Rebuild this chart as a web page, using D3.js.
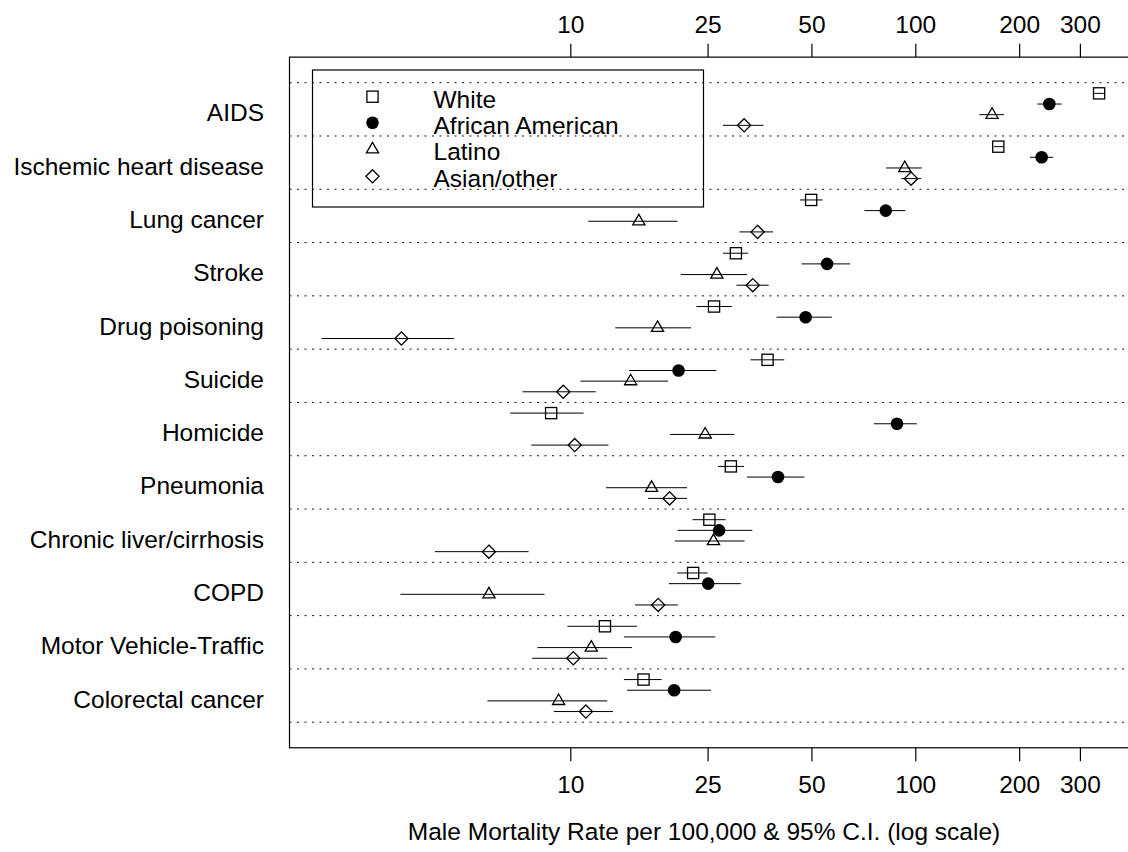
<!DOCTYPE html>
<html>
<head>
<meta charset="utf-8">
<script src="https://cdn.jsdelivr.net/npm/d3@7"></script>
<style>
  body { margin: 0; background: #fff; }
  text { font-family: "Liberation Sans", Arial, Helvetica, sans-serif; font-size: 24.5px; fill: #000; }
</style>
</head>
<body>
<svg id="chart" width="1128" height="852"></svg>
<script>
// Causes of death, listed top to bottom
const causes = ["AIDS", "Ischemic heart disease", "Lung cancer", "Stroke", "Drug poisoning",
  "Suicide", "Homicide", "Pneumonia", "Chronic liver/cirrhosis", "COPD",
  "Motor Vehicle-Traffic", "Colorectal cancer"];

const groupNames = ["White", "African American", "Latino", "Asian/other"];

// Male mortality rate per 100,000 with 95% confidence limits
const whiteRate = [341, 174, 49.9, 30.2, 26.1, 37.3, 8.8, 29.2, 25.3, 22.7, 12.6, 16.3];
const whiteLo   = [330, 169, 46.3, 27.7, 23.2, 33.3, 6.69, 26.8, 22.6, 20.4, 9.81, 14.3];
const whiteHi   = [352, 180, 53.9, 32.8, 29.4, 41.7, 10.93, 31.9, 28.2, 25.0, 15.6, 18.4];

const blackRate = [244.6, 232.4, 82.1, 55.5, 48.1, 20.6, 88.5, 40.0, 27.0, 25.1, 20.2, 20.0];
const blackLo   = [225.8, 215, 71.2, 46.8, 39.6, 14.8, 75.9, 32.5, 20.45, 19.3, 14.3, 14.6];
const blackHi   = [265.7, 251, 93.4, 64.7, 57.3, 26.5, 101, 47.7, 33.7, 31.2, 26.3, 25.6];

const latinoRate = [166.9, 93.2, 15.8, 26.6, 17.9, 14.96, 24.6, 17.2, 26.0, 5.81, 11.5, 9.25];
const latinoLo   = [153.3, 82.3, 11.27, 20.9, 13.5, 10.7, 19.45, 12.7, 20.1, 3.22, 8.03, 5.75];
const latinoHi   = [180.7, 104.4, 20.45, 32.5, 22.4, 19.2, 29.9, 21.8, 32.0, 8.42, 15.1, 12.8];

const asianRate = [31.9, 97.2, 34.9, 33.8, 3.24, 9.54, 10.3, 19.4, 5.81, 17.98, 10.2, 11.1];
const asianLo   = [27.7, 91.1, 30.9, 30.3, 1.90, 7.27, 7.71, 16.8, 4.05, 15.4, 7.75, 8.96];
const asianHi   = [36.3, 104, 38.7, 37.6, 4.60, 11.85, 12.9, 21.8, 7.57, 20.5, 12.8, 13.3];

const tickValues = [10, 25, 50, 100, 200, 300];

const series = [
  { name: groupNames[0], rate: whiteRate, lo: whiteLo, hi: whiteHi, shape: "square", offset: 0.3 },
  { name: groupNames[1], rate: blackRate, lo: blackLo, hi: blackHi, shape: "circle", offset: 0.1 },
  { name: groupNames[2], rate: latinoRate, lo: latinoLo, hi: latinoHi, shape: "triangle", offset: -0.1 },
  { name: groupNames[3], rate: asianRate, lo: asianLo, hi: asianHi, shape: "diamond", offset: -0.3 }
];

const svg = d3.select("#chart");

// Scales: log rate horizontally, cause slots (12 at top .. 1 at bottom) vertically
const x = d3.scaleLog().domain([10, 100]).range([570.3, 915.3]);
const y = d3.scaleLinear().domain([0.5, 12.5]).range([722.2, 82.7]);
const pad = 0.04 * 12;
const plotLeft = 289.5, plotRight = 1140;
const plotTop = y(12.5 + pad), plotBottom = y(0.5 - pad);

const slot = i => causes.length - i;

// Dotted separators between causes
svg.append("g").selectAll("line")
  .data(d3.range(0, causes.length + 1))
  .join("line")
  .attr("x1", plotLeft).attr("x2", plotRight)
  .attr("y1", d => y(d + 0.5)).attr("y2", d => y(d + 0.5))
  .attr("stroke", "#111").attr("stroke-width", 1)
  .attr("stroke-dasharray", "2,5.5");

// Plot frame
svg.append("rect")
  .attr("x", plotLeft).attr("y", plotTop)
  .attr("width", plotRight - plotLeft).attr("height", plotBottom - plotTop)
  .attr("fill", "none").attr("stroke", "#000").attr("stroke-width", 1.2);

// Marker drawing
function marker(sel, shape) {
  if (shape === "circle") {
    sel.append("circle").attr("r", 6.3).attr("fill", "#000").attr("stroke", "none");
  } else if (shape === "square") {
    sel.append("rect").attr("x", -5.6).attr("y", -5.6).attr("width", 11.2).attr("height", 11.2)
      .attr("fill", "none").attr("stroke", "#000").attr("stroke-width", 1.3);
  } else if (shape === "triangle") {
    sel.append("path").attr("d", "M0,-6.9L6.1,3.6L-6.1,3.6Z")
      .attr("fill", "none").attr("stroke", "#000").attr("stroke-width", 1.3);
  } else if (shape === "diamond") {
    sel.append("path").attr("d", "M0,-6.6L6.6,0L0,6.6L-6.6,0Z")
      .attr("fill", "none").attr("stroke", "#000").attr("stroke-width", 1.3);
  }
}

// Confidence intervals and point estimates
series.forEach(s => {
  const g = svg.append("g");
  const rows = causes.map((c, i) => ({ i, rate: s.rate[i], lo: s.lo[i], hi: s.hi[i] }));
  g.selectAll("line").data(rows).join("line")
    .attr("x1", d => x(d.lo)).attr("x2", d => x(d.hi))
    .attr("y1", d => y(slot(d.i) + s.offset)).attr("y2", d => y(slot(d.i) + s.offset))
    .attr("stroke", "#000").attr("stroke-width", 1);
  g.selectAll("g.pt").data(rows).join("g").attr("class", "pt")
    .attr("transform", d => `translate(${x(d.rate)},${y(slot(d.i) + s.offset)})`)
    .call(sel => marker(sel, s.shape));
});

// Cause labels
svg.append("g").selectAll("text").data(causes).join("text")
  .attr("x", 264).attr("y", (d, i) => y(slot(i)) + 12)
  .attr("text-anchor", "end").text(d => d);

// Top and bottom axes
const fmt = d3.format("d");
const topAxis = svg.append("g").attr("transform", `translate(0,${plotTop})`)
  .call(d3.axisTop(x).tickValues(tickValues).tickFormat(fmt).tickSize(13.4).tickPadding(11));
const bottomAxis = svg.append("g").attr("transform", `translate(0,${plotBottom})`)
  .call(d3.axisBottom(x).tickValues(tickValues).tickFormat(fmt).tickSize(13.4).tickPadding(14));
[topAxis, bottomAxis].forEach(a => {
  a.attr("font-size", null).attr("font-family", null);
  a.select(".domain").remove();
  a.selectAll(".tick line").attr("stroke", "#000").attr("stroke-width", 1.2);
  a.selectAll(".tick text").attr("fill", "#000");
});

// Axis title
svg.append("text").attr("x", 704).attr("y", 840).attr("text-anchor", "middle")
  .text("Male Mortality Rate per 100,000 & 95% C.I. (log scale)");

// Legend
const legend = svg.append("g");
legend.append("rect").attr("x", 312.5).attr("y", 70).attr("width", 391).attr("height", 137)
  .attr("fill", "none").attr("stroke", "#000").attr("stroke-width", 1.2);
const legendY = [96.7, 122.7, 149.3, 176.3];
series.forEach((s, k) => {
  const row = legend.append("g").attr("transform", `translate(372.5,${legendY[k]})`);
  marker(row, s.shape);
  legend.append("text").attr("x", 433.5).attr("y", legendY[k] + 11).text(s.name);
});
</script>
</body>
</html>
